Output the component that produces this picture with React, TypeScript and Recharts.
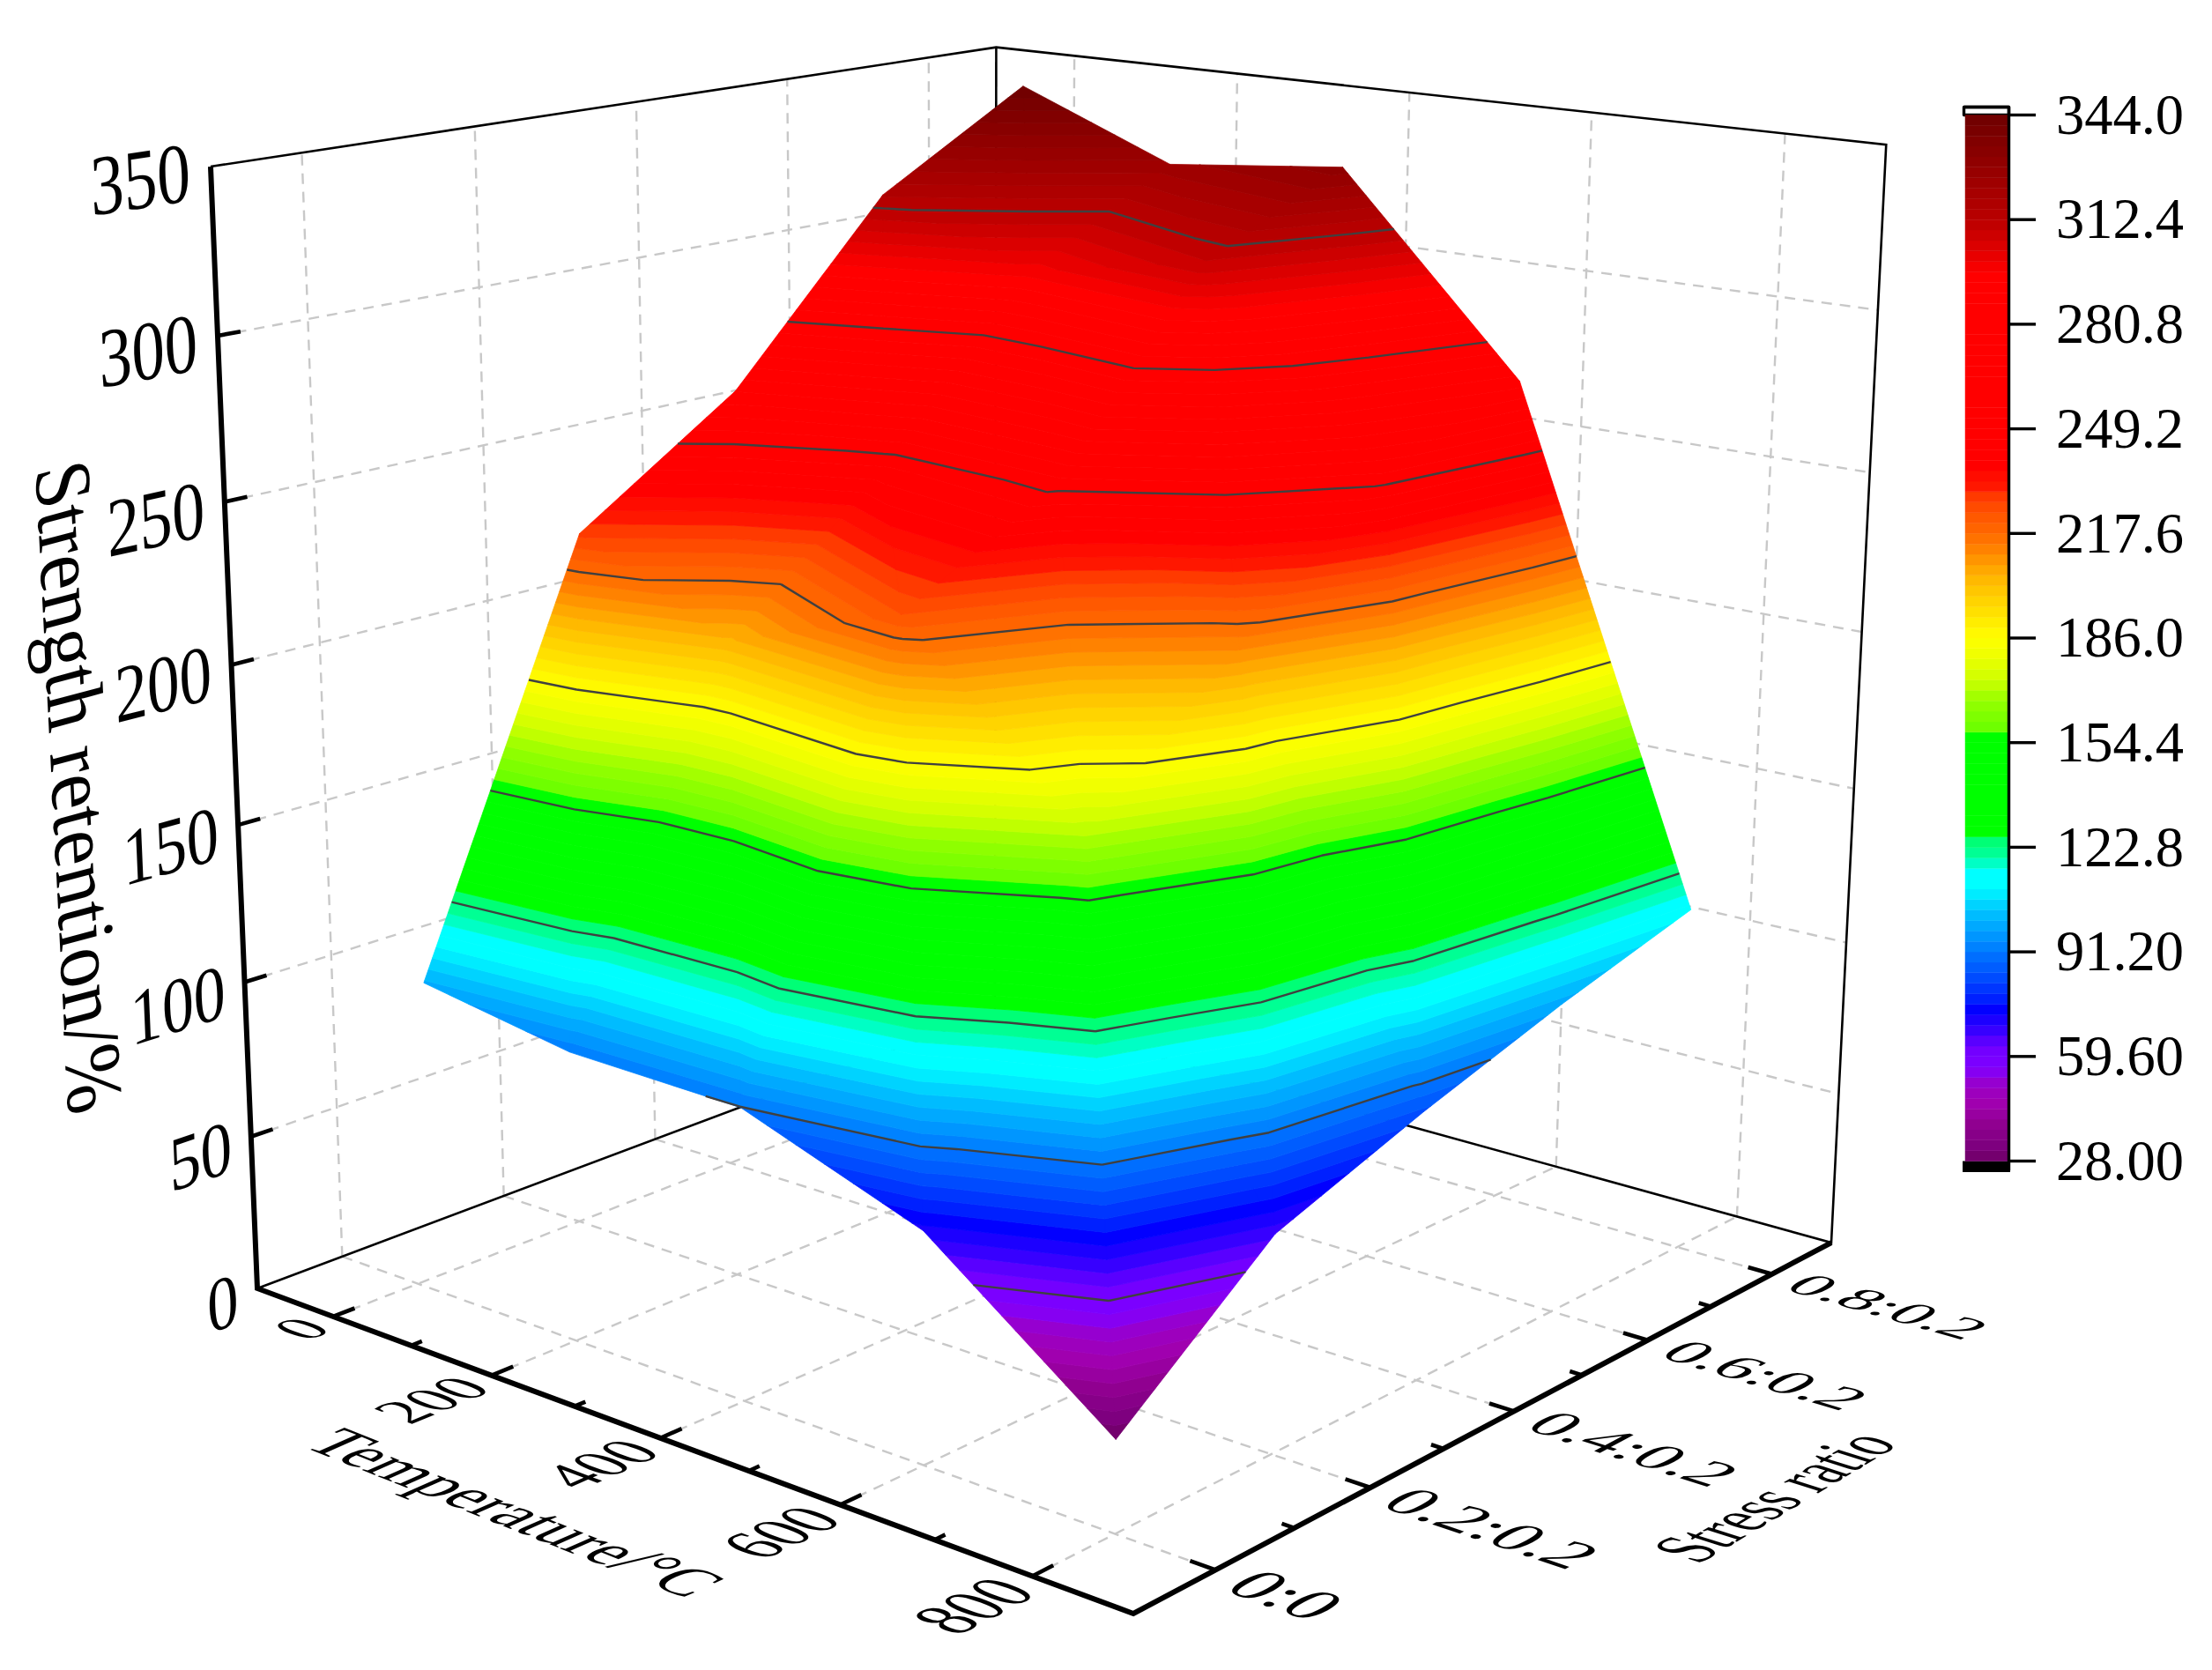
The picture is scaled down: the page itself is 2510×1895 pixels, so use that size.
import React from 'react';
import { ScatterChart, Scatter, XAxis, YAxis } from 'recharts';

// chart values
const temperatures = [20, 200, 400, 600, 800];
const ratioPositions = [1, 2, 3, 4, 5];
const ratioLabels = ['0:0', '0.2:0.2', '0.4:0.2', '0.6:0.2', '0.8:0.2'];
const strengthAt20 = [100, 228, 262, 316, 344];
const strengthAt200 = [92, 204, 245, 298, 324];
const strengthAt400 = [91, 224, 251, 309, 330];
const strengthAt600 = [71, 170, 212, 252, 270];
const strengthAt800 = [28, 67, 84, 99, 112];
const strengthRows = [strengthAt20, strengthAt200, strengthAt400, strengthAt600, strengthAt800];

const tempTicks = [0, 200, 400, 600, 800];
const tempMinorTicks = [100, 300, 500, 700];
const ratioMinorTicks = [1.5, 2.5, 3.5, 4.5];
const strengthTicks = [0, 50, 100, 150, 200, 250, 300, 350];
const colorTicks = [28, 59.6, 91.2, 122.8, 154.4, 186, 217.6, 249.2, 280.8, 312.4, 344];
const colorTickLabels = ['28.00', '59.60', '91.20', '122.8', '154.4', '186.0', '217.6', '249.2', '280.8', '312.4', '344.0'];
const contourLevels = [59.6, 91.2, 122.8, 154.4, 186, 217.6, 249.2, 280.8, 312.4];

const colorStops: [number, string][] = [
  [28, '#6f0066'], [33, '#7f0080'], [39, '#900090'], [45.5, '#a000b0'], [51, '#9a00c8'], [56, '#8000ff'],
  [62.5, '#7000ff'], [66, '#4400ff'], [69, '#2a00ff'], [74, '#0000ff'], [77, '#0020ff'], [84, '#0050ff'],
  [90, '#0070ff'], [97.5, '#00a0ff'], [103, '#00c0ff'], [107, '#00e0ff'], [111, '#00ffff'], [116, '#00ffff'],
  [119, '#00ffaa'], [126, '#00ff66'], [126.3, '#00ff00'], [157.5, '#00ff00'], [157.6, '#66ff00'], [161, '#77ff00'],
  [167.6, '#99ff00'], [173, '#ccff00'], [181, '#f0ff00'], [186, '#ffff00'], [192, '#ffe800'], [196, '#ffd800'],
  [202, '#ffc000'], [208, '#ffa000'], [211, '#ff8c00'], [217.6, '#ff6a00'], [223.6, '#ff5500'], [230, '#ff3300'],
  [231, '#ff1a00'], [236, '#ff0800'], [238, '#ff0000'], [296, '#ff0000'], [300, '#ee0000'], [312, '#bb0000'],
  [330, '#8f0000'], [344, '#6e0000'],
];

const WIDTH = 2510;
const HEIGHT = 1895;
const FONT = '"Liberation Serif"';

// camera of the 3D box, box coordinates u, v, z run from 0 to 1
const view = (u: number, v: number, z: number) => {
  const w = 1 - 0.14785 * u + 0.17081 * v - 0.0614 * z;
  return {
    x: (803.9 * u + 1029.8 * v - 67.7 * z + 292) / w,
    y: (98.3 * u - 117.9 * v - 1284.6 * z + 1462) / w,
  };
};
const uOf = (t: number) => (t + 100) / 1000;
const vOf = (r: number) => (r - 0.5) / 5;
const zOf = (s: number) => s / 350;

const hexRgb = (h: string) => [1, 3, 5].map((i) => parseInt(h.slice(i, i + 2), 16));
const colorAt = (value: number) => {
  for (let i = 1; i < colorStops.length; i++) {
    const [v0, c0] = colorStops[i - 1];
    const [v1, c1] = colorStops[i];
    if (value <= v1) {
      const k = Math.max(0, (value - v0) / (v1 - v0));
      const a = hexRgb(c0);
      const b = hexRgb(c1);
      return `rgb(${a.map((n, j) => Math.round(n + (b[j] - n) * k)).join(',')})`;
    }
  }
  return colorStops[colorStops.length - 1][1];
};

// triangles of the surface, each quad is split along the (i+1,j)-(i,j+1) diagonal
type P3 = { u: number; v: number; s: number };
const node = (i: number, j: number): P3 => ({ u: uOf(temperatures[i]), v: vOf(ratioPositions[j]), s: strengthRows[i][j] });
const triangles: P3[][] = [];
temperatures.slice(1).forEach((_, i) => {
  ratioPositions.slice(1).forEach((_, j) => {
    triangles.push([node(i, j), node(i + 1, j), node(i, j + 1)]);
    triangles.push([node(i + 1, j), node(i + 1, j + 1), node(i, j + 1)]);
  });
});
const mix = (a: P3, b: P3, level: number): P3 => {
  const k = (level - a.s) / (b.s - a.s);
  return { u: a.u + (b.u - a.u) * k, v: a.v + (b.v - a.v) * k, s: level };
};
const clip = (poly: P3[], level: number, keepAbove: boolean) => {
  const out: P3[] = [];
  const inside = (p: P3) => (keepAbove ? p.s >= level : p.s <= level);
  poly.forEach((p, i) => {
    const q = poly[(i + 1) % poly.length];
    if (inside(p)) out.push(p);
    if (inside(p) !== inside(q)) out.push(mix(p, q, level));
  });
  return out;
};
const toView = (p: P3) => view(p.u, p.v, zOf(p.s));

type XY = { x: number; y: number };
const pathMark = (rings: XY[][], fill: string, stroke: string, strokeWidth: number) => ({
  x: rings[0][0].x,
  y: rings[0][0].y,
  rings,
  fill,
  stroke,
  strokeWidth,
});

// colour bands, one hundred levels between the bar ends
const bandStep = 3.16;
const bandFloors = Array.from({ length: 100 }, (_, k) => 28 + k * bandStep);
const bandMarks = bandFloors.flatMap((low) => {
  const rings = triangles
    .map((t) => clip(clip(t, low, true), low + bandStep, false))
    .filter((p) => p.length > 2)
    .map((p) => p.map(toView));
  if (!rings.length) return [];
  const c = colorAt(low + bandStep / 2);
  return [pathMark(rings, c, c, 0.8)];
});

const contourMarks = contourLevels.flatMap((level) => {
  const rings: XY[][] = [];
  triangles.forEach((t) => {
    const pts: P3[] = [];
    t.forEach((p, i) => {
      const q = t[(i + 1) % 3];
      if (p.s < level !== q.s < level) pts.push(mix(p, q, level));
    });
    if (pts.length === 2) rings.push(pts.map(toView));
  });
  return rings.length ? [pathMark(rings, 'none', '#404040', 2.4)] : [];
});

// colour bar
const barLeft = 2230;
const barRight = 2278;
const barY = (v: number) => 1317.5 - ((v - 28) / 316) * 1187;
const rect = (x0: number, y0: number, x1: number, y1: number): XY[] => [
  { x: x0, y: y0 }, { x: x1, y: y0 }, { x: x1, y: y1 }, { x: x0, y: y1 },
];
const barMarks = bandFloors.map((low) => {
  const c = colorAt(low + bandStep / 2);
  return pathMark([rect(barLeft, barY(low + bandStep), barRight, barY(low))], c, c, 0.5);
});
const barFrame = [
  pathMark([rect(barLeft - 1.5, 121.5, barRight + 1.5, barY(344))], '#ffffff', '#000000', 3.4),
  pathMark([rect(barLeft - 3, barY(28), barRight + 3, 1330)], '#000000', '#000000', 0),
  pathMark([rect(barLeft - 1.5, 121.5, barRight + 1.5, 1328)], 'none', '#000000', 3.4),
];

// straight lines of the box
type LineDef = { pts: XY[]; stroke: string; width: number; dash?: string };
const gridStyle = { stroke: '#c8c8c8', width: 2.4, dash: '12 9' };
const gridLines: LineDef[] = [
  ...tempTicks.map((t) => ({ pts: [view(uOf(t), 0, 0), view(uOf(t), 1, 0)], ...gridStyle })),
  ...ratioPositions.map((r) => ({ pts: [view(0, vOf(r), 0), view(1, vOf(r), 0)], ...gridStyle })),
  ...tempTicks.map((t) => ({ pts: [view(uOf(t), 1, 0), view(uOf(t), 1, 1)], ...gridStyle })),
  ...ratioPositions.map((r) => ({ pts: [view(0, vOf(r), 0), view(0, vOf(r), 1)], ...gridStyle })),
  ...strengthTicks.slice(1, -1).flatMap((s) => [
    { pts: [view(0, 0, zOf(s)), view(0, 1, zOf(s))], ...gridStyle },
    { pts: [view(0, 1, zOf(s)), view(1, 1, zOf(s))], ...gridStyle },
  ]),
];
const thin = { stroke: '#000000', width: 2.6 };
const frameLines: LineDef[] = [
  { pts: [view(0, 0, 1), view(0, 1, 1), view(1, 1, 1), view(1, 1, 0), view(0, 1, 0), view(0, 0, 0)], ...thin },
  { pts: [view(0, 1, 0), view(0, 1, 1)], ...thin },
];
const tick = { stroke: '#000000', width: 4.6 };
const axisLines: LineDef[] = [
  { pts: [view(0, 0, 1), view(0, 0, 0), view(1, 0, 0), view(1, 1, 0)], stroke: '#000000', width: 6 },
  ...tempTicks.map((t) => ({ pts: [view(uOf(t), 0, 0), view(uOf(t), 0.025, 0)], ...tick })),
  ...tempMinorTicks.map((t) => ({ pts: [view(uOf(t), 0, 0), view(uOf(t), 0.0125, 0)], ...tick })),
  ...ratioPositions.map((r) => ({ pts: [view(1, vOf(r), 0), view(0.975, vOf(r), 0)], ...tick })),
  ...ratioMinorTicks.map((r) => ({ pts: [view(1, vOf(r), 0), view(0.9875, vOf(r), 0)], ...tick })),
  ...strengthTicks.slice(1, -1).map((s) => ({ pts: [view(0, 0, zOf(s)), view(0, 0.025, zOf(s))], ...tick })),
];
const barTicks: LineDef[] = colorTicks.map((v) => ({
  pts: [{ x: barRight + 3, y: barY(v) }, { x: 2310, y: barY(v) }],
  stroke: '#000000',
  width: 3.4,
}));

// labels lie in the planes of the box, so their matrix comes from the camera
type V3 = [number, number, number];
const boxLabel = (text: string, at: V3, read: V3, up: V3, anchor: string, lift = 33) => {
  const p = view(at[0], at[1], at[2]);
  const r = view(at[0] + read[0], at[1] + read[1], at[2] + read[2]);
  const t = view(at[0] + up[0], at[1] + up[1], at[2] + up[2]);
  return {
    x: p.x,
    y: p.y,
    text,
    anchor,
    lift,
    m: [(r.x - p.x) / 100, (r.y - p.y) / 100, -(t.x - p.x) / 100, -(t.y - p.y) / 100],
  };
};
const labelMarks = [
  ...tempTicks.map((t) => boxLabel(String(t), [uOf(t), -0.02, 0], [0, 0.066, 0], [-0.075, 0, 0], 'end')),
  ...ratioLabels.map((l, i) => boxLabel(l, [1.025, vOf(ratioPositions[i]), 0], [0.067, 0, 0], [0, 0.075, 0], 'start')),
  ...strengthTicks.map((s) => boxLabel(String(s), [0, -0.022, zOf(s)], [0, 0.072, 0], [0, 0, 0.071], 'end', 36)),
  boxLabel('Temperature/°C', [0.515, -0.184, 0], [0.068, 0, 0], [0, 0.071, 0], 'middle', 25),
  boxLabel('Stress ratio', [1.26, 0.495, 0], [0, 0.068, 0], [-0.07, 0, 0], 'middle', 25),
  boxLabel('Strength retention/%', [0, -0.176, 0.5], [0, 0, -0.068], [0, 0.085, 0], 'middle', 25),
  ...colorTicks.map((v, i) => ({
    x: 2478,
    y: barY(v),
    text: colorTickLabels[i],
    anchor: 'end',
    lift: 33,
    m: [0.645, 0, 0, 0.645],
  })),
];

const noMark = () => null;
const PathShape = (props: any) => {
  const { cx, cy, payload } = props;
  const dx = cx - payload.x;
  const dy = cy - payload.y;
  const closed = payload.fill !== 'none';
  const d = payload.rings
    .map((ring: XY[]) => 'M' + ring.map((p) => `${(p.x + dx).toFixed(2)} ${(p.y + dy).toFixed(2)}`).join('L') + (closed ? 'Z' : ''))
    .join('');
  return <path d={d} fill={payload.fill} stroke={payload.stroke} strokeWidth={payload.strokeWidth} strokeLinejoin="round" />;
};
const TextShape = (props: any) => {
  const { cx, cy, payload } = props;
  const [a, b, c, d] = payload.m;
  return (
    <text
      transform={`matrix(${a} ${b} ${c} ${d} ${cx} ${cy})`}
      y={payload.lift}
      fontFamily={FONT}
      fontSize={100}
      textAnchor={payload.anchor}
      fill="#000000"
    >
      {payload.text}
    </text>
  );
};

const drawLine = (l: LineDef, i: number, prefix: string) => (
  <Scatter
    key={`${prefix}${i}`}
    data={l.pts}
    shape={noMark}
    line={{ stroke: l.stroke, strokeWidth: l.width, strokeDasharray: l.dash, strokeLinejoin: 'miter' }}
    isAnimationActive={false}
  />
);

export default function App() {
  return (
    <div style={{ position: 'absolute', left: 0, top: 0, width: WIDTH, height: HEIGHT, background: '#ffffff' }}>
      <ScatterChart width={WIDTH} height={HEIGHT} margin={{ top: 0, right: 0, bottom: 0, left: 0 }}>
        <XAxis type="number" dataKey="x" domain={[0, WIDTH]} hide />
        <YAxis type="number" dataKey="y" domain={[0, HEIGHT]} reversed hide />
        {gridLines.map((l, i) => drawLine(l, i, 'grid'))}
        {frameLines.map((l, i) => drawLine(l, i, 'frame'))}
        <Scatter data={bandMarks} shape={PathShape} isAnimationActive={false} />
        <Scatter data={contourMarks} shape={PathShape} isAnimationActive={false} />
        {axisLines.map((l, i) => drawLine(l, i, 'axis'))}
        <Scatter data={barFrame.slice(0, 2)} shape={PathShape} isAnimationActive={false} />
        <Scatter data={barMarks} shape={PathShape} isAnimationActive={false} />
        <Scatter data={barFrame.slice(2)} shape={PathShape} isAnimationActive={false} />
        {barTicks.map((l, i) => drawLine(l, i, 'bar'))}
        <Scatter data={labelMarks} shape={TextShape} isAnimationActive={false} />
      </ScatterChart>
    </div>
  );
}
